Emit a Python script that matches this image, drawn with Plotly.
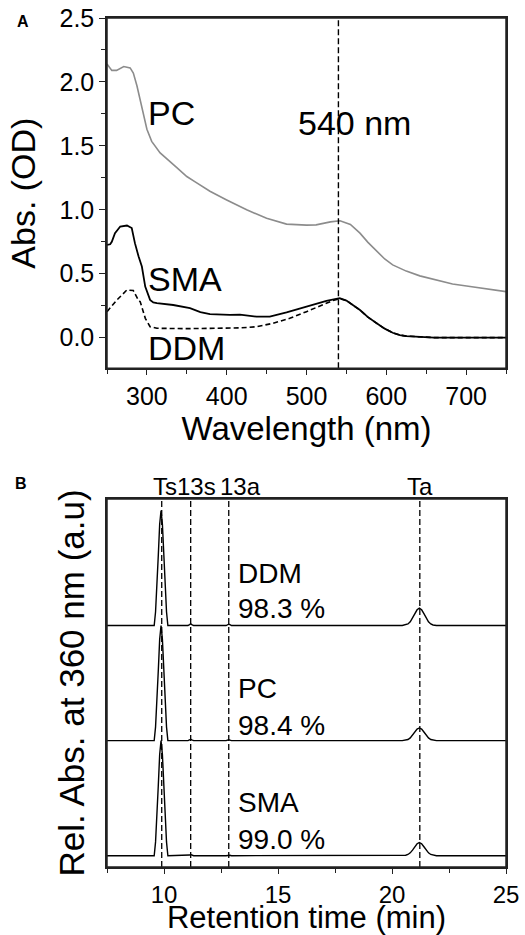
import plotly.graph_objects as go

# ---------------- Panel A: absorbance spectra ----------------
wl_pc = [250, 256, 262, 271, 279, 283, 287.5, 291.6, 295, 300, 306, 316.6, 337.5, 350, 360, 379,
         400, 425, 450, 475, 500, 512, 530, 542, 555, 567, 577, 588, 598, 608, 625, 642, 662,
         683, 705, 725, 750]
abs_pc = [2.14, 2.09, 2.09, 2.12, 2.11, 2.07, 1.97, 1.86, 1.76, 1.63, 1.535, 1.445, 1.33, 1.26,
          1.22, 1.145, 1.077, 1.0, 0.933, 0.888, 0.88, 0.882, 0.905, 0.914, 0.885, 0.817, 0.745,
          0.673, 0.615, 0.569, 0.52, 0.483, 0.45, 0.42, 0.40, 0.383, 0.36]

wl_sma = [250, 254, 256, 260, 266.6, 275, 281, 285, 289.6, 293.7, 297.9, 302, 304, 308, 312.5,
          333, 354, 367, 379, 404, 416.6, 437.5, 454, 475, 500, 525, 541.6, 550, 567, 577, 588,
          598, 608, 617, 625, 640, 660, 700, 750]
abs_sma = [0.726, 0.73, 0.75, 0.817, 0.869, 0.877, 0.857, 0.739, 0.634, 0.556, 0.399, 0.32, 0.295,
           0.275, 0.269, 0.255, 0.23, 0.2, 0.183, 0.178, 0.18, 0.164, 0.164, 0.198, 0.242, 0.287,
           0.308, 0.29, 0.216, 0.16, 0.112, 0.07, 0.038, 0.02, 0.012, 0.005, 0.0, 0.0, 0.0]

wl_ddm = [250, 262.5, 275, 283, 289.6, 291.6, 298, 304, 312.5, 350, 416.6, 437.5, 458, 479, 500,
          520.8, 533, 541.6, 550, 567, 577, 588, 598, 608, 617, 625, 640, 660, 700, 750]
abs_ddm = [0.203, 0.295, 0.373, 0.368, 0.29, 0.281, 0.151, 0.085, 0.073, 0.07, 0.076, 0.085, 0.112,
           0.151, 0.203, 0.261, 0.29, 0.305, 0.29, 0.216, 0.16, 0.112, 0.07, 0.038, 0.02, 0.012,
           0.005, 0.0, 0.0, 0.0]

marker_wl = 540

# ---------------- Panel B: HPLC chromatograms ----------------
rt = [7.5, 9.45, 9.57, 9.63, 9.69, 9.75, 9.81, 9.87, 9.93, 9.99, 10.05, 10.11, 10.17, 10.4,
      11.05, 11.12, 11.17, 11.22, 11.3, 12.72, 12.79, 12.84, 12.89, 12.96, 20.45, 20.6, 20.7,
      20.8, 20.9, 21.0, 21.1, 21.2, 21.3, 21.4, 21.5, 21.6, 21.7, 21.8, 21.95, 25.0]
# relative absorbance (before stacking offset)
sig_ddm = [0, 0, 0.0, 0.12, 0.32, 0.61, 0.88, 1.0, 0.88, 0.61, 0.32, 0.12, 0.0, 0,
           0, 0.008, 0.014, 0.008, 0, 0, 0.007, 0.012, 0.007, 0, 0, 0.005, 0.014, 0.033, 0.065,
           0.103, 0.137, 0.151, 0.137, 0.103, 0.065, 0.033, 0.014, 0.005, 0, 0]
sig_pc = [0, 0, 0.0, 0.12, 0.32, 0.61, 0.88, 1.0, 0.88, 0.61, 0.32, 0.12, 0.0, 0,
          0, 0.007, 0.012, 0.007, 0, 0, 0.005, 0.008, 0.005, 0, 0, 0.004, 0.01, 0.024, 0.047,
          0.075, 0.1, 0.11, 0.1, 0.075, 0.047, 0.024, 0.01, 0.004, 0, 0]
sig_sma = [0, 0, 0.0, 0.12, 0.32, 0.61, 0.88, 1.0, 0.88, 0.61, 0.32, 0.12, 0.0, 0,
           0, 0.006, 0.01, 0.006, 0, 0, 0.004, 0.007, 0.004, 0, 0, 0.004, 0.011, 0.025, 0.049,
           0.078, 0.104, 0.114, 0.104, 0.078, 0.049, 0.025, 0.011, 0.004, 0, 0]
samples = ["DDM", "PC", "SMA"]
purity = ["98.3 %", "98.4 %", "99.0 %"]
offsets = [2, 1, 0]

peak_names = ["Ts", "13s", "13a", "Ta"]
peak_rt = [9.9, 11.17, 12.84, 21.22]
label_shift = [3, 6, 12, 0]

FONT = "Liberation Sans, Arial, sans-serif"
AX = "#222222"

fig = go.Figure()

# Panel A traces
fig.add_trace(go.Scatter(x=wl_pc, y=abs_pc, mode="lines", name="PC",
                         line=dict(color="#8c8c8c", width=1.6), xaxis="x", yaxis="y"))
fig.add_trace(go.Scatter(x=wl_sma, y=abs_sma, mode="lines", name="SMA",
                         line=dict(color="black", width=1.8), xaxis="x", yaxis="y"))
fig.add_trace(go.Scatter(x=wl_ddm, y=abs_ddm, mode="lines", name="DDM",
                         line=dict(color="black", width=1.6, dash="5px,3px"), xaxis="x", yaxis="y"))

# Panel B traces
for name, sig, off in zip(samples, [sig_ddm, sig_pc, sig_sma], offsets):
    fig.add_trace(go.Scatter(x=rt, y=[v + off for v in sig], mode="lines", name=name,
                             line=dict(color="black", width=1.4), xaxis="x2", yaxis="y2"))

shapes = [dict(type="line", xref="x", yref="y domain", x0=marker_wl, x1=marker_wl, y0=0, y1=1,
               line=dict(color="black", width=1.4, dash="6px,3px"))]
for prt in peak_rt:
    shapes.append(dict(type="line", xref="x2", yref="y2 domain", x0=prt, x1=prt, y0=0, y1=1,
                       line=dict(color="black", width=1.3, dash="6px,3px")))
# plot frames
for xr, yr in [("x domain", "y domain"), ("x2 domain", "y2 domain")]:
    shapes.append(dict(type="rect", xref=xr, yref=yr, x0=0, x1=1, y0=0, y1=1, layer="above",
                       line=dict(color=AX, width=1.5), fillcolor="rgba(0,0,0,0)"))

ann = []
big = dict(family=FONT, size=34, color="black")
ann.append(dict(x=331, y=1.758, xref="x", yref="y", text="PC", showarrow=False, font=big))
ann.append(dict(x=560, y=1.679, xref="x", yref="y", text="540 nm", showarrow=False, font=big))
ann.append(dict(x=348, y=0.458, xref="x", yref="y", text="SMA", showarrow=False, font=big))
ann.append(dict(x=349, y=-0.084, xref="x", yref="y", text="DDM", showarrow=False, font=big))

mid = dict(family=FONT, size=28, color="black")
name_y = [2.448, 1.45, 0.46]
pur_y = [2.145, 1.128, 0.145]
for s, p, ny, py in zip(samples, purity, name_y, pur_y):
    ann.append(dict(x=13.17, y=ny, xref="x2", yref="y2", text=s, showarrow=False,
                    xanchor="left", font=mid))
    ann.append(dict(x=13.17, y=py, xref="x2", yref="y2", text=p, showarrow=False,
                    xanchor="left", font=mid))
for nm, prt, sh in zip(peak_names, peak_rt, label_shift):
    ann.append(dict(x=prt, y=1, xref="x2", yref="y2 domain", text=nm, showarrow=False,
                    xshift=sh, yanchor="bottom", yshift=-3,
                    font=dict(family=FONT, size=24, color="black")))

ann.append(dict(x=-0.23, y=1.0, xref="paper", yref="paper", text="<b>A</b>", showarrow=False,
                xanchor="left", yanchor="top", yshift=7,
                font=dict(family=FONT, size=16, color="black")))
ann.append(dict(x=-0.235, y=0.455, xref="paper", yref="paper", text="<b>B</b>", showarrow=False,
                xanchor="left", yanchor="top", yshift=8,
                font=dict(family=FONT, size=16, color="black")))

tickfont = dict(family=FONT, size=25, color="black")
tickfont_b = dict(family=FONT, size=24, color="black")
common = dict(showline=True, linecolor=AX, linewidth=1.5, mirror=True, showgrid=False,
              zeroline=False, tickcolor=AX, tickwidth=1.3)

fig.update_layout(
    width=525, height=935,
    margin=dict(l=107, r=19, t=18, b=68, autoexpand=False),
    paper_bgcolor="white", plot_bgcolor="white",
    showlegend=False,
    font=dict(family=FONT, color="black"),
    shapes=shapes, annotations=ann,
    xaxis=dict(domain=[0, 1], anchor="y", range=[250, 750], tick0=300, dtick=100,
               ticks="outside", ticklen=5, tickfont=tickfont,
               minor=dict(ticks="outside", dtick=50, tick0=250, ticklen=4, tickcolor=AX),
               title=dict(text="Wavelength (nm)", font=dict(family=FONT, size=33), standoff=8),
               **common),
    yaxis=dict(domain=[0.5874, 1], anchor="x", range=[-0.24, 2.5], dtick=0.5, tick0=0,
               ticks="outside", ticklen=6, tickfont=tickfont, tickformat=".1f",
               minor=dict(ticks="outside", dtick=0.25, tick0=0, ticklen=4, tickcolor=AX),
               title=dict(text="Abs. (OD)", font=dict(family=FONT, size=34), standoff=14),
               **common),
    xaxis2=dict(domain=[0, 1], anchor="y2", range=[7.5, 25], tick0=10, dtick=5,
                ticks="outside", ticklen=5, tickfont=tickfont_b,
                minor=dict(ticks="outside", dtick=2.5, tick0=7.5, ticklen=4, tickcolor=AX),
                title=dict(text="Retention time (min)", font=dict(family=FONT, size=31), standoff=12),
                **common),
    yaxis2=dict(domain=[0, 0.4335], anchor="x2", range=[-0.098, 3.10], showticklabels=False,
                ticks="",
                title=dict(text="Rel. Abs. at 360 nm (a.u)", font=dict(family=FONT, size=35),
                           standoff=10),
                **common),
)

fig.write_html("out.html", config={"displayModeBar": False},
               post_script="document.body.style.margin='0px';document.body.style.overflow='hidden';")
